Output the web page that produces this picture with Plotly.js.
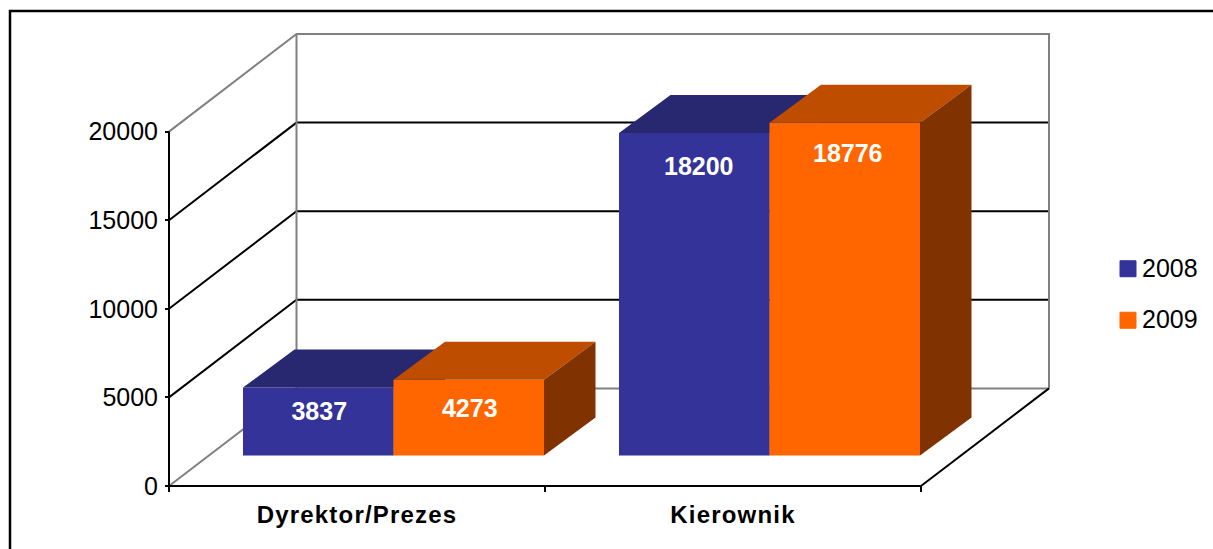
<!DOCTYPE html>
<html>
<head>
<meta charset="utf-8">
<script src="https://cdn.plot.ly/plotly-3.0.1.min.js"></script>
<style>
html,body{margin:0;padding:0;background:#fff;overflow:hidden}
.xtick text{letter-spacing:1.2px}
.legend .legendtext{transform:translate(-6px,-2px)}
</style>
</head>
<body>
<div id="chart" style="width:1213px;height:549px"></div>
<script>
// ---- data ----
const categories = ["Dyrektor/Prezes", "Kierownik"];
const seriesNames = ["2008", "2009"];
const values2008 = [3837, 18200];
const values2009 = [4273, 18776];
const yTicks = [0, 5000, 10000, 15000, 20000];

// ---- colours ----
const blue = {front:"#333399", top:"#282870", side:"#1a1a4d"};
const orange = {front:"#FF6600", top:"#BF4D00", side:"#803300"};
const GREY = "#808080", BLACK = "#000000";

// ---- layout geometry (pixels) ----
const W = 1213, H = 549;
const X0 = 169, X1 = 1049, Y1 = 34, Y0 = 486;   // chart box: value 0 / first category at (X0, Y0)
const padX = 4, padY = 6;                       // room round the box so edge lines are not clipped
const L = X0 - padX, R = X1 + padX, T = Y1 - padY, B = Y0 + padY;
const pxX = 376;            // px per category
const pxY = 0.01772;        // px per unit of value
const px2x = p => p / pxX, px2y = p => p / pxY;
const xMax = px2x(X1 - X0), yMax = px2y(Y0 - Y1);
const xRange = [-px2x(padX), xMax + px2x(padX)], yRange = [-px2y(padY), yMax + px2y(padY)];

// oblique projection of depth
const wallDX = px2x(127.5), wallDY = yMax - 20000;
const barDX = px2x(51.5), barDY = px2y(38);
const barStart = px2x(74), barW = px2x(150.5), barBase = px2y(30.5);
const labelDrop = [[26, 36], [31, 33]];   // px under the bar's top edge
const labelShift = [[1, 4.5], [1, 3]];    // px right of bar centre

function lineTrace(xs, ys, color, width) {
  return {type:"scatter", mode:"lines", x:xs, y:ys, xaxis:"x", yaxis:"y", showlegend:false,
          hoverinfo:"skip", cliponaxis:false, line:{color:color, width:width}};
}
function poly(xs, ys, color, ax) {
  return {type:"scatter", mode:"lines", x:xs, y:ys, fill:"toself", fillcolor:color, line:{width:0},
          xaxis:ax[0], yaxis:ax[1], showlegend:false, hoverinfo:"skip", cliponaxis:false};
}
function barFaces(values, colors, slot, ax, name) {
  const x0 = values.map((_, i) => i + barStart + slot * barW);
  const tops = values.map(v => v + barBase);
  const tx = [], ty = [], sx = [], sy = [];
  values.forEach((v, i) => {
    const a = x0[i], b = a + barW, t = tops[i];
    tx.push(a, b, b + barDX, a + barDX, a, null);
    ty.push(t, t, t + barDY, t + barDY, t, null);
    sx.push(b, b + barDX, b + barDX, b, b, null);
    sy.push(barBase, barBase + barDY, t + barDY, t, barBase, null);
  });
  return [
    {type:"bar", name:name, x:x0, y:values, base:values.map(() => barBase), width:values.map(() => barW),
     offset:0, marker:{color:colors.front, line:{width:0}}, xaxis:ax[0], yaxis:ax[1],
     showlegend:false, hoverinfo:"skip"},
    poly(tx, ty, colors.top, ax),
    poly(sx, sy, colors.side, ax)
  ];
}

const traces = [];
// walls and floor (bottom subplot)
yTicks.slice(1, -1).forEach(v => {
  traces.push(lineTrace([0, wallDX, xMax], [v, v + wallDY, v + wallDY], BLACK, 2));
});
traces.push(lineTrace([0, wallDX, xMax, xMax], [20000, 20000 + wallDY, 20000 + wallDY, wallDY], GREY, 2));
traces.push(lineTrace([wallDX, wallDX], [20000 + wallDY, wallDY], GREY, 2));
traces.push(lineTrace([0, wallDX, xMax], [0, wallDY, wallDY], GREY, 2));
traces.push(lineTrace([categories.length, xMax], [0, wallDY], BLACK, 2));
traces.push(lineTrace([0, 0, categories.length], [20000, 0, 0], BLACK, 2));

// bars: each series on its own overlaid subplot, so later fronts hide earlier depth faces
barFaces(values2008, blue, 0, ["x2", "y2"], seriesNames[0]).forEach(t => traces.push(t));
barFaces(values2009, orange, 1, ["x3", "y3"], seriesNames[1]).forEach(t => traces.push(t));

// data labels
const lx = [], ly = [], lt = [];
[values2008, values2009].forEach((vals, s) => vals.forEach((v, i) => {
  lx.push(i + barStart + (s + 0.5) * barW + px2x(labelShift[s][i]));
  ly.push(v + barBase - px2y(labelDrop[s][i]));
  lt.push(String(v));
}));
traces.push({type:"scatter", mode:"text", x:lx, y:ly, text:lt, textposition:"middle center",
  textfont:{family:"Liberation Sans", size:25, color:"#fff", weight:"bold"},
  xaxis:"x3", yaxis:"y3", showlegend:false, hoverinfo:"skip", cliponaxis:false});

// legend entries
[[seriesNames[0], blue.front], [seriesNames[1], orange.front]].forEach(([n, c]) => {
  traces.push({type:"scatter", mode:"markers", name:n, legendgroup:n, x:[null], y:[null], xaxis:"x", yaxis:"y",
    marker:{symbol:"square", size:16, color:c, line:{width:1, color:c}}, hoverinfo:"skip"});
});

const overlay = {range:xRange, showgrid:false, zeroline:false, showline:false, fixedrange:true};
const overlayY = {range:yRange, visible:false, fixedrange:true};

const layout = {
  width:W, height:H, autosize:false,
  margin:{l:L, r:W - R, t:T, b:H - B, pad:0, autoexpand:false},
  paper_bgcolor:"#fff", plot_bgcolor:"rgba(0,0,0,0)",
  font:{family:"Liberation Sans", size:25, color:"#000"},
  showlegend:true, barmode:"overlay", hovermode:false,
  legend:{x:(1108 - L) / (R - L), xanchor:"left", y:(B - 246) / (B - T), yanchor:"top",
          bgcolor:"rgba(0,0,0,0)", tracegroupgap:16, itemsizing:"trace", traceorder:"grouped",
          font:{family:"Liberation Sans", size:25, color:"#000"}},
  xaxis:{range:xRange, showgrid:false, zeroline:false, showline:false, ticks:"", fixedrange:true,
         tickmode:"array", tickvals:categories.map((_, i) => i + 0.5), ticktext:categories,
         ticklabelstandoff:6, tickfont:{family:"Liberation Sans", size:24, color:"#000", weight:"bold"}},
  yaxis:{range:yRange, showgrid:false, zeroline:false, showline:false, ticks:"inside", ticklen:padX, tickwidth:2,
         tickcolor:"#000", fixedrange:true, tickmode:"array", tickvals:yTicks, ticktext:yTicks.map(String),
         ticklabelstandoff:6, tickfont:{family:"Liberation Sans", size:25, color:"#000"}},
  xaxis2:Object.assign({overlaying:"x", anchor:"y2", visible:false}, overlay),
  yaxis2:Object.assign({overlaying:"y", anchor:"x2"}, overlayY),
  xaxis3:Object.assign({overlaying:"x", anchor:"y3", ticks:"inside", ticklen:padY, tickwidth:2, tickcolor:"#000",
          tickmode:"array", tickvals:[0, 1, 2], showticklabels:false}, overlay),
  yaxis3:Object.assign({overlaying:"y", anchor:"x3"}, overlayY),
  shapes:[{type:"path", xref:"paper", yref:"paper", layer:"below",
           path:`M ${(10 - L) / (R - L)} ${(B - H) / (B - T)} L ${(10 - L) / (R - L)} ${(B - 11) / (B - T)} L ${(W - L) / (R - L)} ${(B - 11) / (B - T)}`,
           line:{color:"#000", width:2.5}}]
};

Plotly.newPlot("chart", traces, layout, {displayModeBar:false, staticPlot:true});
</script>
</body>
</html>
